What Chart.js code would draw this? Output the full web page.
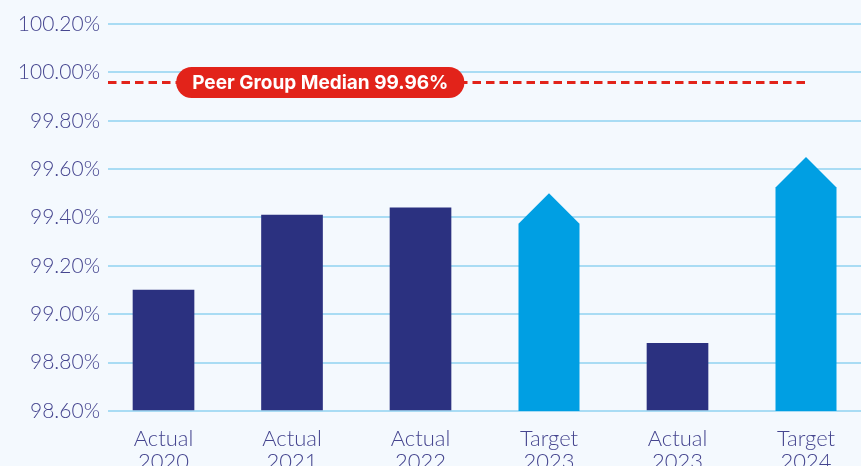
<!DOCTYPE html>
<html>
<head>
<meta charset="utf-8">
<script src="https://cdn.jsdelivr.net/npm/chart.js@4.4.1/dist/chart.umd.min.js"></script>
<style>
  html, body { margin: 0; padding: 0; background: #f4f9fe; overflow: hidden; }
  #wrap { width: 861px; height: 466px; position: relative; overflow: hidden; }
</style>
</head>
<body>
<div id="wrap"><canvas id="c" width="861" height="466"></canvas></div>
<script>
// ---- data ----
const categories = [["Actual", "2020"], ["Actual", "2021"], ["Actual", "2022"], ["Target", "2023"], ["Actual", "2023"], ["Target", "2024"]];
const actualValues = [99.10, 99.41, 99.44, null, 98.88, null];
const targetValues = [null, null, null, 99.50, null, 99.65];
const peerMedian = 99.96;
const peerLabel = "Peer Group Median 99.96%";
const yMin = 98.6, yMax = 100.2, yStep = 0.2;

const DARK = '#2b3180', LIGHT = '#009fe3', RED = '#e2231a', TICK = '#45458f', GRID = '#a9dcf4';
const FONT = 'Lato, "Noto Sans", sans-serif';
const PILLFONT = 'Inter, "Noto Sans", sans-serif';

// draw target bars as arrow-shaped pentagons, using the bar elements placed by the library
const arrowPlugin = {
  id: 'arrows',
  afterDatasetDraw(chart, args) {
    if (args.index !== 1) return;
    const ctx = chart.ctx;
    const meta = args.meta;
    const bottom = chart.chartArea.bottom;
    ctx.save();
    ctx.fillStyle = LIGHT;
    meta.data.forEach((el, i) => {
      if (targetValues[i] == null) return;
      const hw = el.width / 2;
      const x = el.x, top = el.y;
      ctx.beginPath();
      ctx.moveTo(x - hw, bottom);
      ctx.lineTo(x - hw, top + hw);
      ctx.lineTo(x, top);
      ctx.lineTo(x + hw, top + hw);
      ctx.lineTo(x + hw, bottom);
      ctx.closePath();
      ctx.fill();
    });
    ctx.restore();
  }
};

const medianPlugin = {
  id: 'median',
  afterDatasetsDraw(chart) {
    const ctx = chart.ctx;
    const ys = chart.scales.y, xs = chart.scales.x;
    const y = Math.round(ys.getPixelForValue(peerMedian)) + 0.5;
    const x0 = chart.chartArea.left;
    const x1 = xs.getPixelForValue(5.03);
    ctx.save();
    ctx.strokeStyle = RED;
    ctx.lineWidth = 3;
    ctx.setLineDash([8.5, 5]);
    ctx.beginPath();
    ctx.moveTo(x0, y);
    ctx.lineTo(x1, y);
    ctx.stroke();
    ctx.setLineDash([]);
    // pill
    ctx.font = 'bold 19px ' + PILLFONT;
    const tw = ctx.measureText(peerLabel).width;
    const cx = xs.getPixelForValue(1.22);
    const h = 31, w = tw + 32, r = h / 2;
    const left = cx - w / 2, top = y - h / 2;
    ctx.fillStyle = RED;
    ctx.beginPath();
    ctx.roundRect(left, top, w, h, r);
    ctx.fill();
    ctx.fillStyle = '#ffffff';
    ctx.textAlign = 'center';
    ctx.textBaseline = 'middle';
    ctx.fillText(peerLabel, cx, y + 1);
    ctx.restore();
  }
};

new Chart(document.getElementById('c'), {
  type: 'bar',
  data: {
    datasets: [
      {
        data: actualValues.map((v, i) => ({ x: i, y: v })),
        backgroundColor: DARK,
        barThickness: 61,
        grouped: false,
        base: yMin
      },
      {
        data: targetValues.map((v, i) => ({ x: i, y: v })),
        backgroundColor: 'rgba(0,0,0,0)',
        barThickness: 61,
        grouped: false,
        base: yMin
      }
    ]
  },
  options: {
    responsive: false,
    animation: false,
    events: [],
    layout: { padding: { top: 24, left: 0, right: 0, bottom: 0 } },
    plugins: { legend: { display: false }, tooltip: { enabled: false } },
    scales: {
      x: {
        type: 'linear',
        offset: false,
        min: -0.432,
        max: 5.428,
        afterBuildTicks: (s) => { s.ticks = categories.map((c, i) => ({ value: i })); },
        afterFit: (s) => { s.height = 55; },
        grid: { display: false },
        border: { display: false },
        ticks: {
          autoSkip: false,
          maxRotation: 0,
          padding: 8,
          color: TICK,
          font: { family: FONT, size: 22, weight: 300, lineHeight: 1.05 },
          callback: (v) => categories[v]
        }
      },
      y: {
        min: yMin,
        max: yMax,
        afterFit: (s) => { s.width = 108; },
        afterBuildTicks: (s) => {
          const t = [];
          for (let k = 0; k <= Math.round((yMax - yMin) / yStep); k++) t.push({ value: +(yMin + k * yStep).toFixed(2) });
          s.ticks = t;
        },
        grid: { color: GRID, lineWidth: 2, drawTicks: false },
        border: { display: false },
        ticks: {
          padding: 8,
          color: TICK,
          font: { family: FONT, size: 21, weight: 300 },
          callback: (v) => v.toFixed(2) + '%'
        }
      }
    }
  },
  plugins: [arrowPlugin, medianPlugin]
});
</script>
</body>
</html>
